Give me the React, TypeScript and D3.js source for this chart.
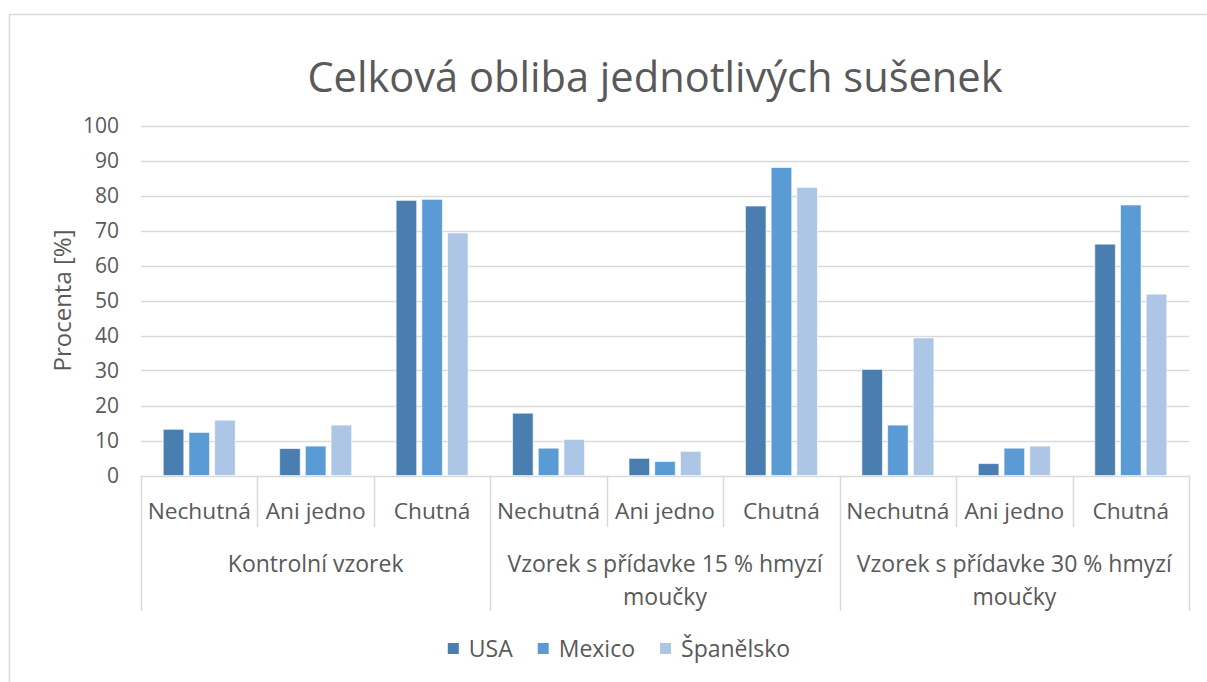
import React, { useEffect, useRef } from "react";
import * as d3 from "d3";

const title = "Celková obliba jednotlivých sušenek";
const yAxisLabel = "Procenta [%]";
const groups = ["Kontrolní vzorek", "Vzorek s přídavke 15 % hmyzí\nmoučky", "Vzorek s přídavke 30 % hmyzí\nmoučky"];
const categories = ["Nechutná", "Ani jedno", "Chutná"];
const seriesNames = ["USA", "Mexico", "Španělsko"];
const seriesColors = ["#4a7eb0", "#5b9bd5", "#adc6e5"];
const usa = [13.2, 7.7, 78.6, 17.8, 4.9, 77.0, 30.3, 3.4, 66.1];
const mexico = [12.3, 8.4, 78.9, 7.8, 4.0, 88.0, 14.4, 7.8, 77.3];
const spain = [15.8, 14.4, 69.3, 10.3, 6.9, 82.3, 39.3, 8.4, 51.8];
const yTicks = [0, 10, 20, 30, 40, 50, 60, 70, 80, 90, 100];

const W = 1207;
const H = 682;
const FONT = "'Open Sans', sans-serif";
const TEXT = "#595959";
const GRID = "#d9d9d9";

export default function App() {
  const ref = useRef<SVGSVGElement>(null);
  useEffect(() => {
    const svg = d3.select(ref.current);
    svg.selectAll("*").remove();
    const left = 141, right = 1189, top = 125.5, bottom = 475.5;
    const values = [usa, mexico, spain];
    const flat: { key: string; group: number; cat: string }[] = [];
    groups.forEach((g, gi) => categories.forEach((c) => flat.push({ key: `${gi}-${c}`, group: gi, cat: c })));

    const x0 = d3.scaleBand().domain(flat.map((d) => d.key)).range([left, right]).padding(0);
    const x1 = d3.scaleBand().domain(seriesNames).range([0, x0.bandwidth()]).paddingInner(0.2).paddingOuter(0.865);
    const y = d3.scaleLinear().domain([0, 100]).range([bottom, top]);

    // border
    svg.append("rect").attr("x", 9.5).attr("y", 14.5).attr("width", 1400).attr("height", 800)
      .attr("fill", "white").attr("stroke", GRID).attr("stroke-width", 1.5);

    // title
    svg.append("text").attr("x", 655).attr("y", 92).attr("text-anchor", "middle")
      .attr("font-family", FONT).attr("font-size", 41.6).attr("fill", TEXT).text(title);

    // gridlines
    svg.append("g").selectAll("line").data(yTicks).join("line")
      .attr("x1", left).attr("x2", right)
      .attr("y1", (d) => Math.round(y(d)) + 0.5).attr("y2", (d) => Math.round(y(d)) + 0.5)
      .attr("stroke", GRID).attr("stroke-width", 1.5);

    // y tick labels
    svg.append("g").selectAll("text").data(yTicks).join("text")
      .attr("x", 119).attr("y", (d) => y(d)).attr("dy", "0.35em").attr("text-anchor", "end")
      .attr("font-family", FONT).attr("font-size", 21).attr("fill", TEXT).text((d) => d);

    // y axis label
    svg.append("text").attr("transform", `translate(71,300.5) rotate(-90)`).attr("text-anchor", "middle")
      .attr("font-family", FONT).attr("font-size", 24).attr("fill", TEXT).text(yAxisLabel);

    // bars
    const bars = svg.append("g");
    flat.forEach((d, i) => {
      seriesNames.forEach((s, si) => {
        const v = values[si][i];
        bars.append("rect")
          .attr("x", (x0(d.key) as number) + (x1(s) as number))
          .attr("y", y(v)).attr("width", x1.bandwidth()).attr("height", y(0) - y(v))
          .attr("fill", seriesColors[si]).attr("stroke", "rgba(255,255,255,0.6)").attr("stroke-width", 1);
      });
    });

    // category separators
    const boundaries = d3.range(flat.length + 1);
    svg.append("g").selectAll("line").data(boundaries).join("line")
      .attr("x1", (i) => Math.round(left + i * x0.step()) + 0.5)
      .attr("x2", (i) => Math.round(left + i * x0.step()) + 0.5)
      .attr("y1", bottom)
      .attr("y2", (i) => (i % 3 === 0 ? 611 : 527))
      .attr("stroke", GRID).attr("stroke-width", 1.5);

    // category labels
    svg.append("g").selectAll("text").data(flat).join("text")
      .attr("x", (d) => (x0(d.key) as number) + x0.bandwidth() / 2).attr("y", 519)
      .attr("text-anchor", "middle").attr("font-family", FONT).attr("font-size", 22.7).attr("fill", TEXT)
      .text((d) => d.cat);

    // group labels
    groups.forEach((g, gi) => {
      const cx = left + (gi * 3 + 1.5) * x0.step();
      const lines = g.split("\n");
      lines.forEach((ln, li) => {
        svg.append("text").attr("x", cx).attr("y", 572 + li * 33).attr("text-anchor", "middle")
          .attr("font-family", FONT).attr("font-size", 23).attr("fill", TEXT).text(ln);
      });
    });

    // legend
    const lg = svg.append("g");
    const sq = 11, gapText = 10, gapItem = 25;
    const items: { w: number; node: any; sqNode: any }[] = [];
    seriesNames.forEach((s, si) => {
      const sqNode = lg.append("rect").attr("width", sq).attr("height", sq).attr("fill", seriesColors[si]);
      const node = lg.append("text").attr("font-family", FONT).attr("font-size", 23).attr("fill", TEXT)
        .attr("y", 657).text(s);
      const w = (node.node() as SVGTextElement).getComputedTextLength();
      items.push({ w, node, sqNode });
    });
    const total = items.reduce((a, it) => a + sq + gapText + it.w, 0) + gapItem * (items.length - 1);
    let cx = 619 - total / 2;
    items.forEach((it) => {
      it.sqNode.attr("x", cx).attr("y", 643);
      it.node.attr("x", cx + sq + gapText);
      cx += sq + gapText + it.w + gapItem;
    });
  }, []);
  return (
    <svg ref={ref} width={W} height={H} style={{ position: "absolute", left: 0, top: 0, background: "white" }} />
  );
}
